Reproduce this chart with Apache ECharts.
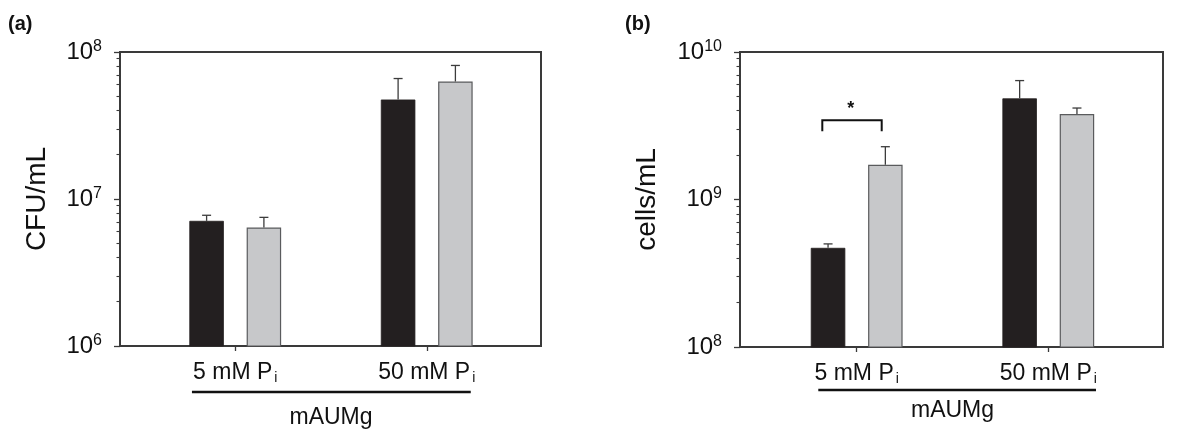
<!DOCTYPE html>
<html><head><meta charset="utf-8">
<script src="https://cdn.jsdelivr.net/npm/echarts@6/dist/echarts.min.js"></script>
<style>html,body{margin:0;padding:0;background:#fff}#c{width:1200px;height:429px}</style>
</head><body><div id="c"></div>
<script>
// ---------- data ----------
const categories = ['5 mM P', '50 mM P'];
const categorySub = 'i';
const groupLabel = 'mAUMg';
const panelLabels = ['(a)', '(b)'];
const yTitles = ['CFU/mL', 'cells/mL'];

const yMajorA = [1e6, 1e7, 1e8];
const yMinorA = [2e6,3e6,4e6,5e6,6e6,7e6,8e6,9e6,2e7,3e7,4e7,5e7,6e7,7e7,8e7,9e7];
const yMajorB = [1e8, 1e9, 1e10];
const yMinorB = [2e8,3e8,4e8,5e8,6e8,7e8,8e8,9e8,2e9,3e9,4e9,5e9,6e9,7e9,8e9,9e9];

const cfuBlack    = [7.1e6, 4.75e7];
const cfuBlackErr = [7.75e6, 6.6e7];
const cfuGrey     = [6.4e6, 6.3e7];
const cfuGreyErr  = [7.5e6, 8.1e7];

const cellsBlack    = [4.7e8, 4.85e9];
const cellsBlackErr = [5.0e8, 6.4e9];
const cellsGrey     = [1.72e9, 3.8e9];
const cellsGreyErr  = [2.28e9, 4.17e9];

const sigCategory = 0;
const sigTop = 3.45e9;
const sigLegBottom = 2.9e9;
const sigMark = '*';

// ---------- style ----------
const FONT = "'Liberation Sans', Arial, sans-serif";
const AX = '#3a3a3a';
const BLACK = '#231f20';
const GREY = '#c7c8ca';
const GREY_EDGE = '#5a5b5d';
const BAR_W = 34.5;
const BAR_GAP_PX = 22.8;
const HALF = (BAR_W + BAR_GAP_PX) / 2;

const chart = echarts.init(document.getElementById('c'), null, {renderer: 'canvas'});

const supFmt = v => '{b|10}{s|' + Math.round(Math.log10(v)) + '}';
const catFmt = v => '{b|' + v + '}{sub|' + categorySub + '}';

function boxGrid(left, top, width, height) {
  return {left, top, width, height, show: true, borderColor: AX, borderWidth: 2,
          backgroundColor: 'transparent', containLabel: false, outerBoundsMode: 'none'};
}
function catGrid(left, top, width, height) {
  return {left, top, width, height, show: false, containLabel: false, outerBoundsMode: 'none'};
}

function majorY(gridIndex, min, max, ticks, title, nameGap) {
  return {
    type: 'log', logBase: 10, gridIndex, min, max,
    name: title, nameLocation: 'middle', nameRotate: 90, nameGap,
    nameTextStyle: {fontFamily: FONT, fontSize: 28, color: '#111', lineHeight: 30},
    axisLine: {show: true, lineStyle: {color: AX, width: 2}},
    axisTick: {show: true, inside: false, length: 6, customValues: ticks, lineStyle: {color: AX, width: 1.3}},
    axisLabel: {show: true, customValues: ticks, margin: 18, formatter: supFmt,
      rich: {
        b: {fontFamily: FONT, fontSize: 24, color: '#111', lineHeight: 27},
        s: {fontFamily: FONT, fontSize: 16, color: '#111', lineHeight: 14, verticalAlign: 'top'}
      }},
    splitLine: {show: false}, minorTick: {show: false}
  };
}
function minorY(gridIndex, min, max, ticks) {
  return {
    type: 'log', logBase: 10, gridIndex, min, max, position: 'left', offset: 0,
    axisLine: {show: false},
    axisTick: {show: true, inside: false, length: 3.5, customValues: ticks, lineStyle: {color: AX, width: 1.1}},
    axisLabel: {show: false}, splitLine: {show: false}
  };
}
function hiddenY(gridIndex, min, max) {
  return {type: 'log', logBase: 10, gridIndex, min, max, show: false};
}
function catX(gridIndex, nameGap) {
  return {
    type: 'category', gridIndex, data: categories,
    name: groupLabel, nameLocation: 'middle', nameGap,
    nameTextStyle: {fontFamily: FONT, fontSize: 23, color: '#111', lineHeight: 24},
    axisLine: {show: false},
    axisTick: {show: true, alignWithLabel: true, inside: false, length: 5, lineStyle: {color: AX, width: 1.3}},
    axisLabel: {show: true, margin: 15, formatter: catFmt, interval: 0,
      rich: {
        b: {fontFamily: FONT, fontSize: 23, color: '#111', lineHeight: 24},
        sub: {fontFamily: FONT, fontSize: 14, color: '#111', lineHeight: 12, verticalAlign: 'bottom', padding: [0, 0, 0, 2]}
      }},
    splitLine: {show: false}
  };
}
function hiddenX(gridIndex) {
  return {type: 'value', gridIndex, min: 0, max: 1, show: false};
}

function barSeries(xi, yi, data, color, edge, bw) {
  return {
    type: 'bar', xAxisIndex: xi, yAxisIndex: yi, data, barWidth: BAR_W,
    barGap: (BAR_GAP_PX / BAR_W * 100).toFixed(1) + '%', clip: true, silent: true,
    itemStyle: {color, borderColor: edge, borderWidth: bw}, z: 2
  };
}
function errSeries(xi, yi, means, errs, dir) {
  return {
    type: 'custom', xAxisIndex: xi, yAxisIndex: yi, silent: true, clip: false, z: 3,
    data: categories.map((c, i) => [i, means[i], errs[i]]),
    renderItem(params, api) {
      const base = api.coord([api.value(0), api.value(1)]);
      const top = api.coord([api.value(0), api.value(2)]);
      const x = base[0] + dir * HALF;
      const st = {stroke: '#3c3c3c', lineWidth: 1.3};
      return {type: 'group', children: [
        {type: 'line', shape: {x1: x, y1: base[1], x2: x, y2: top[1]}, style: st},
        {type: 'line', shape: {x1: x - 4.5, y1: top[1], x2: x + 4.5, y2: top[1]}, style: st}
      ]};
    }
  };
}
function groupLineSeries(xi, yi, ymin, leftExt, rightExt, below) {
  return {
    type: 'custom', xAxisIndex: xi, yAxisIndex: yi, silent: true, clip: false, z: 3,
    data: [[0, 1, ymin]],
    renderItem(params, api) {
      const a = api.coord([api.value(0), api.value(2)]);
      const b = api.coord([api.value(1), api.value(2)]);
      const y = a[1] + below;
      return {type: 'line', shape: {x1: a[0] - leftExt, y1: y, x2: b[0] + rightExt, y2: y},
              style: {stroke: '#111', lineWidth: 2.5}};
    }
  };
}
function sigSeries(xi, yi) {
  return {
    type: 'custom', xAxisIndex: xi, yAxisIndex: yi, silent: true, clip: false, z: 4,
    data: [[sigCategory, sigTop, sigLegBottom]],
    renderItem(params, api) {
      const t = api.coord([api.value(0), api.value(1)]);
      const b = api.coord([api.value(0), api.value(2)]);
      const x1 = t[0] - 34.4, x2 = t[0] + 25;
      return {type: 'group', children: [
        {type: 'polyline', shape: {points: [[x1, b[1]], [x1, t[1]], [x2, t[1]], [x2, b[1]]]},
         style: {stroke: '#111', lineWidth: 2, fill: null}},
        {type: 'text', style: {x: t[0] - 6, y: t[1] - 11, text: sigMark, fontFamily: FONT,
          fontSize: 18, fontWeight: 'bold', fill: '#111', align: 'center', verticalAlign: 'middle'}}
      ]};
    }
  };
}

const option = {
  animation: false,
  backgroundColor: '#fff',
  grid: [
    boxGrid(120, 52, 421, 294),
    catGrid(139.5, 52, 383, 294),
    boxGrid(740, 52, 423, 295),
    catGrid(760.9, 52, 383.2, 295)
  ],
  xAxis: [hiddenX(0), catX(1, 60), hiddenX(2), catX(3, 52)],
  yAxis: [
    majorY(0, 1e6, 1e8, yMajorA, yTitles[0], 68),
    minorY(0, 1e6, 1e8, yMinorA),
    hiddenY(1, 1e6, 1e8),
    majorY(2, 1e8, 1e10, yMajorB, yTitles[1], 78),
    minorY(2, 1e8, 1e10, yMinorB),
    hiddenY(3, 1e8, 1e10)
  ],
  series: [
    barSeries(1, 2, cfuBlack, BLACK, BLACK, 0.8),
    barSeries(1, 2, cfuGrey, GREY, GREY_EDGE, 1.2),
    errSeries(1, 2, cfuBlack, cfuBlackErr, -1),
    errSeries(1, 2, cfuGrey, cfuGreyErr, 1),
    groupLineSeries(1, 2, 1e6, 43.3, 44, 46),
    barSeries(3, 5, cellsBlack, BLACK, BLACK, 0.8),
    barSeries(3, 5, cellsGrey, GREY, GREY_EDGE, 1.2),
    errSeries(3, 5, cellsBlack, cellsBlackErr, -1),
    errSeries(3, 5, cellsGrey, cellsGreyErr, 1),
    groupLineSeries(3, 5, 1e8, 38.4, 47.7, 43),
    sigSeries(3, 5)
  ],
  graphic: [
    {type: 'text', left: 8, top: 14, style: {text: panelLabels[0], fontFamily: FONT, fontSize: 20, fontWeight: 'bold', fill: '#111'}},
    {type: 'text', left: 625, top: 14, style: {text: panelLabels[1], fontFamily: FONT, fontSize: 20, fontWeight: 'bold', fill: '#111'}}
  ]
};
chart.setOption(option);
</script></body></html>
